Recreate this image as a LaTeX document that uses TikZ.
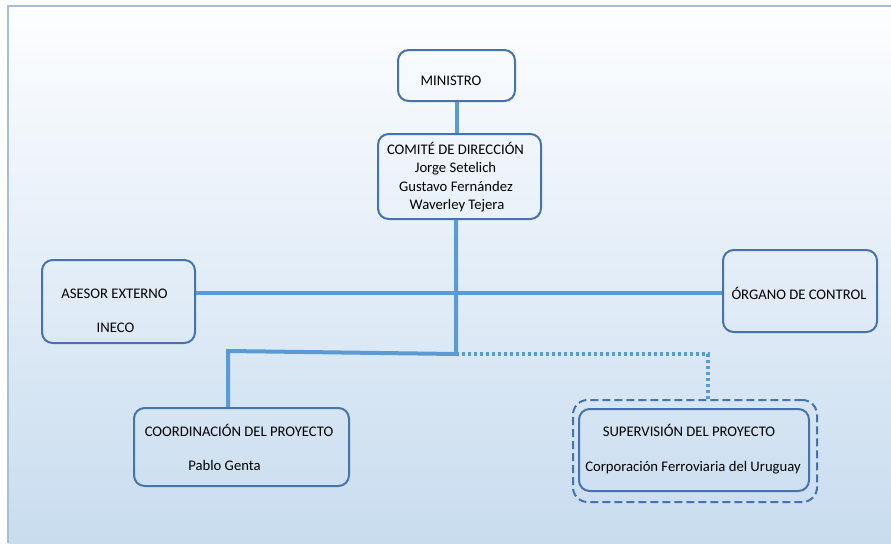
\documentclass[tikz,border=0pt]{standalone}
\usepackage{fontspec}
\setmainfont{Carlito}
\definecolor{bgtop}{HTML}{FDFEFF}
\definecolor{bgbot}{HTML}{C8DCEF}
\definecolor{frameline}{HTML}{A6BED6}
\definecolor{boxline}{HTML}{4673AA}
\definecolor{conn}{HTML}{5B9BD5}
\tikzset{
  orgbox/.style={draw=boxline, line width=1.5pt, rounded corners=8pt, inner sep=0pt},
  txt/.style={anchor=base, inner sep=0pt, font=\fontsize{11pt}{13.9pt}\selectfont},
  connline/.style={draw=conn, line width=3pt},
  dotline/.style={draw=conn, line width=2.3pt, dash pattern=on 2.25pt off 2.25pt},
  dashbox/.style={draw=boxline, line width=1.5pt, rounded corners=11pt, dash pattern=on 6pt off 3pt, inner sep=0pt}
}
\begin{document}
\begin{tikzpicture}[x=0.75pt,y=-0.75pt]
\useasboundingbox (0,0) rectangle (891,543);
% background
\fill[white] (0,0) rectangle (891,543);
\shade[top color=bgtop, bottom color=bgbot] (8,6) rectangle (891,543);
\draw[frameline, line width=1.5pt] (8,543) -- (8,6) -- (891,6);

% boxes
\node[orgbox, minimum width=87.75pt, minimum height=38.25pt] (ministro) at (456.5,75.5) {};
\node[orgbox, minimum width=122.25pt, minimum height=63.75pt] (comite) at (459.5,176.5) {};
\node[orgbox, minimum width=114.75pt, minimum height=62.25pt] (asesor) at (118.5,301.5) {};
\node[orgbox, minimum width=115.5pt, minimum height=61.5pt] (organo) at (800,291) {};
\node[orgbox, minimum width=161.25pt, minimum height=58.5pt] (coord) at (241.5,447) {};
\node[orgbox, minimum width=172.5pt, minimum height=61.5pt] (superv) at (694,450) {};
\node[dashbox, minimum width=183pt, minimum height=76.5pt] (supouter) at (695,451) {};

% texts
\node[txt] (tmin) at (451,85.5) {MINISTRO};
\node[txt] (tcom1) at (455.5,154) {COMITÉ DE DIRECCIÓN};
\node[txt] (tcom2) at (455.5,172.5) {Jorge Setelich};
\node[txt] (tcom3) at (456,191) {Gustavo Fernández};
\node[txt] (tcom4) at (457,209.5) {Waverley Tejera};
\node[txt] (tas1) at (114.5,298) {ASESOR EXTERNO};
\node[txt] (tas2) at (115.5,332) {INECO};
\node[txt] (torg) at (799,299) {ÓRGANO DE CONTROL};
\node[txt] (tco1) at (239,436.5) {COORDINACIÓN DEL PROYECTO};
\node[txt] (tco2) at (224.5,470.5) {Pablo Genta};
\node[txt] (tsu1) at (689,436.5) {SUPERVISIÓN DEL PROYECTO};
\node[txt] (tsu2) at (693,471.5) {Corporación Ferroviaria del Uruguay};

% connectors
\coordinate (hy) at (456,293);
\coordinate (j1) at (456,354);
\coordinate (c1) at (228,351);
\coordinate (c2) at (708,354);
\draw[connline] (ministro.south) -- (ministro.south |- comite.north);
\draw[connline] (asesor.east |- hy) -- (organo.west |- hy);
\draw[connline] (j1 |- comite.south) -- (j1) -- (c1) -- (c1 |- coord.north);
\draw[dotline] (j1) -- (c2) -- (c2 |- supouter.north);
\end{tikzpicture}
\end{document}
